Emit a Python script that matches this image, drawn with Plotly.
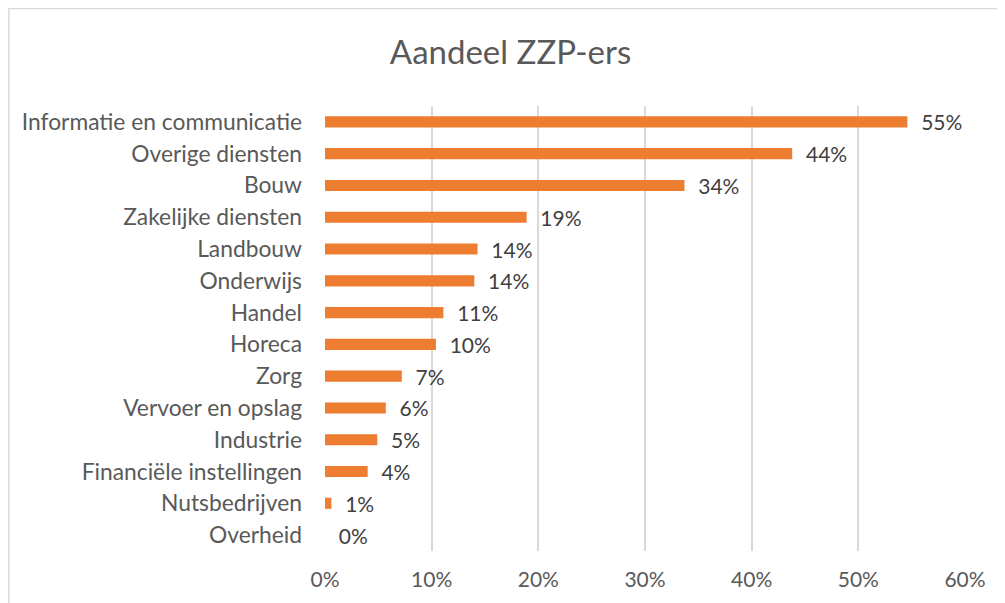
import plotly.graph_objects as go

title = "Aandeel ZZP-ers"
categories = [
    "Informatie en communicatie", "Overige diensten", "Bouw", "Zakelijke diensten",
    "Landbouw", "Onderwijs", "Handel", "Horeca", "Zorg", "Vervoer en opslag",
    "Industrie", "Financiële instellingen", "Nutsbedrijven", "Overheid",
]
shares = [0.546, 0.438, 0.337, 0.189, 0.143, 0.140, 0.111, 0.104, 0.072, 0.057,
          0.049, 0.040, 0.006, 0.0]
x_ticks = [0, 0.1, 0.2, 0.3, 0.4, 0.5, 0.6]

ORANGE = "#ED7D31"
GRID = "#D9D9D9"
FONT = "Lato, 'Open Sans', sans-serif"

fig = go.Figure(go.Bar(
    x=shares, y=categories, orientation="h",
    marker=dict(color=ORANGE, line=dict(width=0)),
    texttemplate="  %{x:.0%}", textposition="outside", constraintext="none",
    textfont=dict(size=21, color="#404040", family=FONT),
    cliponaxis=False,
))

# page body has an 8px margin, so the figure is laid out 8px up/left
fig.update_layout(
    width=1005, height=603,
    margin=dict(l=317, r=48, t=98, b=60),
    paper_bgcolor="white", plot_bgcolor="white",
    bargap=0.65,
    showlegend=False,
    title=dict(text=title, x=0.5, xanchor="center", y=0.927, yanchor="middle",
               font=dict(size=33, color="#595959", family=FONT)),
    font=dict(family=FONT, color="#595959"),
    shapes=[dict(type="rect", xref="paper", yref="paper",
                 x0=-0.494, x1=1.1, y0=-0.2, y1=1.219,
                 line=dict(color=GRID, width=1.5), layer="below")],
)
fig.update_xaxes(range=[0, 0.6], tickvals=x_ticks, tickformat=".0%",
                 showgrid=True, gridcolor=GRID, gridwidth=1.5,
                 zeroline=False, showline=False, ticks="", automargin=False,
                 ticklabelstandoff=14,
                 tickfont=dict(size=21, color="#595959"))
fig.update_yaxes(autorange="reversed", showgrid=False, showline=False, ticks="",
                 automargin=False, ticklabelstandoff=22,
                 tickfont=dict(size=22.8, color="#595959"))

fig.write_html("out.html")
